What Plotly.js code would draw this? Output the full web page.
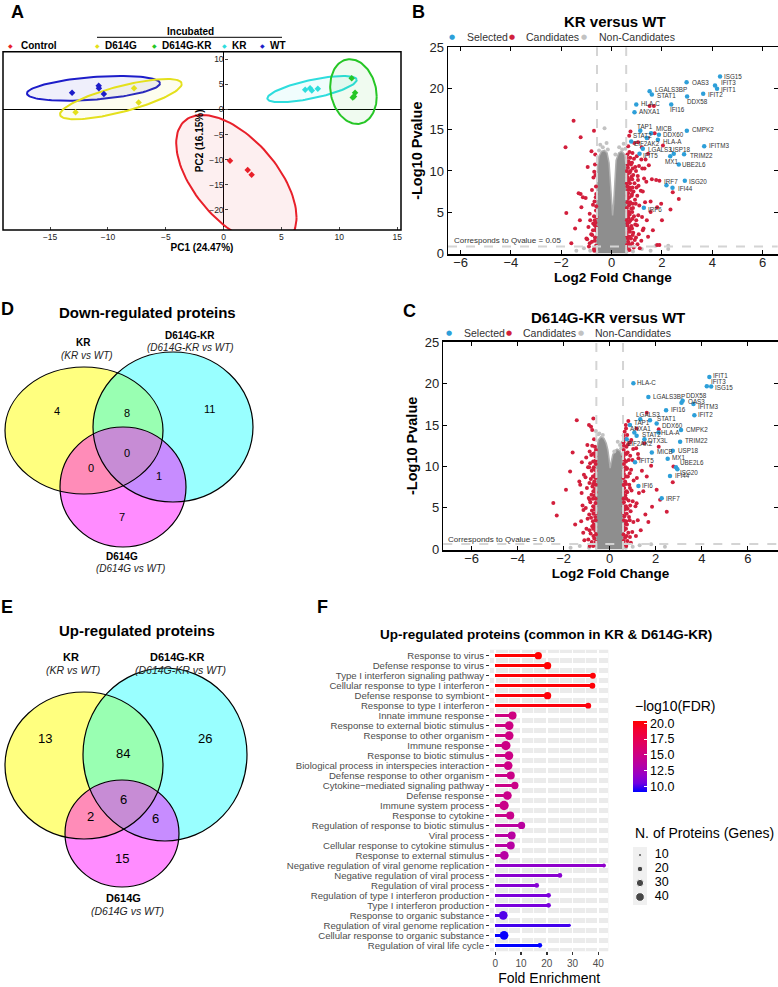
<!DOCTYPE html>
<html>
<head>
<meta charset="utf-8">
<script src="https://cdn.plot.ly/plotly-3.0.1.min.js"></script>
<style>html,body{margin:0;padding:0;background:#fff}#fig{width:778px;height:987px}</style>
</head>
<body>
<div id="fig"></div>
<script>
const W = 778, H = 987;
const FONT = 'Liberation Sans, Arial, Helvetica, sans-serif';

// ---------- A: PCA ----------
const pcaGroups = ['Control', 'D614G', 'D614G-KR', 'KR', 'WT'];
const pcaColors = ['#e8202a', '#e4e01c', '#26c626', '#2edddd', '#1d1dc9'];
const pc1Control = [0.55, 2.08, 2.42];
const pc2Control = [-10.2, -12.05, -13.0];
const pc1D614G = [-12.8, -7.74, -7.35];
const pc2D614G = [-0.55, 4.2, 1.4];
const pc1D614GKR = [11.07, 11.36, 11.16, 11.27];
const pc2D614GKR = [6.2, 3.35, 2.4, 2.6];
const pc1KR = [7.05, 7.47, 7.62, 8.14];
const pc2KR = [3.9, 4.2, 3.75, 4.1];
const pc1WT = [-13.1, -10.8, -10.78, -10.35];
const pc2WT = [3.35, 4.7, 4.2, 3.1];
// confidence ellipses: centre, semi-axis vector u, vertical semi-axis v
const ellCx = [1.1, -8.88, 11.22, 7.64, -11.25];
const ellCy = [-14.1, 2.06, 3.56, 4.05, 4.2];
const ellUx = [5.2, 5.26, 2.01, 3.86, 5.75];
const ellUy = [-7.4, 3.02, -1.01, 1.83, 1.0];
const ellVy = [10.7, 2.64, 6.37, 1.87, 2.25];

// ---------- B: KR versus WT ----------
const krSelGenes = ['ISG15','IFIT3','IFIT1','OAS3','IFIT2','DDX58','LGALS3BP','STAT1','HLA-C','IFI16','ANXA1','TAP1','MICB','STAT2','DDX60','HLA-A','EIF2AK2','LGALS3','USP18','IFIT5','MX1','TRIM22','UBE2L6','IFITM3','CMPK2','IRF7','ISG20','IFI44','IRF6'];
const krSelX = [4.31,4.11,4.19,2.98,3.64,3.0,1.51,1.6,0.98,2.37,0.91,1.14,1.57,1.4,1.88,1.84,0.78,1.24,2.47,1.11,2.33,2.88,2.67,3.68,2.99,2.18,2.91,2.42,1.28];
const krSelY = [21.5,20.4,20.0,20.8,19.4,19.05,19.7,19.3,18.1,18.1,17.15,14.9,14.6,14.0,14.4,13.8,13.6,12.7,12.1,12.1,11.8,12.05,10.8,13.0,14.9,8.25,8.8,7.97,5.54];
const krCandX = [-1.51,-1.23,-1.83,-0.80,-0.70,-1.23,-1.14,-1.20,-1.80,-1.26,-1.03,-0.87,-0.97,-0.87,-0.77,-0.63,-0.67,-0.61,-0.74,-0.85,-0.67,-0.74,-1.00,-0.81,-0.67,-0.60,-0.62,-1.31,-0.95,-0.72,-0.66,-0.90,-0.70,-0.63,-0.65,-1.45,-1.60,-0.78,-0.69,-0.92,
  -0.62,-0.66,-0.61,-0.64,-0.70,-0.62,-0.68,-0.61,-0.73,-0.78,-0.64,-0.69,
  0.64,0.66,0.62,0.68,0.63,0.67,0.62,0.69,0.64,0.66,0.63,0.68,0.62,0.65,0.67,0.63,0.66,0.70,
  0.74,0.77,0.73,0.79,0.75,0.72,0.78,0.74,0.80,0.76,0.73,0.79,0.75,0.77,0.74,
  0.88,0.92,0.86,0.94,0.89,0.85,0.93,0.87,0.91,0.86,0.94,0.89,
  1.03,1.08,1.01,1.06,1.10,1.02,1.07,1.04,1.09,1.00,
  1.18,1.27,1.21,1.33,1.16,1.29,1.22,1.35,
  0.61,0.65,0.61,0.64,0.61,0.65,0.61,0.63,0.61,0.65,0.61,0.63,0.61,0.64,0.61,
  0.71,0.70,0.72,0.70,0.71,0.70,0.72,0.70,0.71,0.70,0.72,0.70,0.71,
  0.82,0.84,0.81,0.83,0.82,0.84,0.81,0.83,0.82,0.84,0.81,0.83,
  0.97,0.98,0.96,0.99,0.97,
  0.75,1.05,1.71,2.04,1.44,1.51,1.68,1.77,1.38,1.05,1.24,1.97,1.81,2.34,2.67,2.43,1.31,1.48,1.18,1.81,1.90,1.40,1.24,1.64,1.55,1.60,1.90,1.45,1.20,0.90,1.55,2.00,1.45,1.12];
const krCandY = [16.1,14.1,12.9,12.4,14.9,7.2,6.8,5.6,4.9,4.0,6.7,4.8,1.7,1.2,2.2,2.8,4.0,5.7,5.9,4.0,3.4,2.8,1.8,2.3,1.5,4.4,8.1,7.3,10.5,9.2,10.8,0.8,0.5,6.8,12.0,3.0,1.2,7.7,9.9,3.2,
  0.9,1.9,3.1,3.7,4.5,5.2,6.3,7.2,3.6,1.4,9.5,0.3,
  0.6,1.4,2.1,2.9,3.6,4.3,5.1,5.8,6.6,7.3,8.1,8.8,9.6,10.4,11.2,12.0,13.0,14.3,
  0.9,1.8,2.6,3.3,4.0,4.7,5.4,6.2,7.0,7.7,8.5,9.3,10.0,10.8,11.6,
  0.7,1.6,2.5,3.5,4.5,5.5,6.5,7.5,8.5,9.5,10.5,11.5,
  1.1,2.3,3.4,4.6,5.8,7.0,8.2,9.4,10.6,11.8,
  1.5,3.0,4.4,6.2,7.6,9.1,10.3,11.4,
  1.0,1.8,2.5,3.3,4.0,4.7,5.5,6.2,7.0,7.7,8.5,9.2,10.0,10.8,11.6,
  0.4,1.1,2.0,3.0,3.8,5.0,6.0,6.8,8.0,9.0,9.8,11.0,12.3,
  1.2,2.2,3.0,4.2,5.0,6.0,7.2,8.0,9.0,10.3,11.0,12.2,
  1.9,4.0,6.0,8.0,10.0,
  14.8,13.5,14.6,13.1,14.0,17.9,17.9,8.9,8.7,8.9,7.5,6.0,5.6,5.3,6.6,7.4,10.3,10.7,11.4,1.0,1.0,4.0,2.8,2.8,6.3,9.0,8.8,12.1,12.9,13.4,5.0,4.0,2.0,0.6];
const krCloudX = [-0.62,-0.6,-0.58,-0.56,-0.5,-0.4,-0.28,-0.18,-0.1,-0.04,0.0,0.04,0.08,0.12,0.18,0.28,0.4,0.52,0.58,0.6,0.62];
const krCloudY = [0,4,8,10.5,11.8,12.4,12.5,12.2,11,8,5.5,4.6,6,9,11.3,12.2,12.4,12,10.5,6,0];
const krNonX = [-0.28,-0.45,-0.35,-0.15,0.3,0.48,0.55,0.42,-0.5,-1.4,-1.1,-0.85,0.85,1.2,1.75,2.25,2.25,1.55,-0.6,0.62,-0.2,0.15];
const krNonY = [15.2,13.2,12.9,12.6,12.9,13.3,12.7,12.6,12.5,0.3,0.6,0.3,0.2,0.5,0.9,0.5,0.9,0.3,0.2,0.3,13.4,12.0];

// ---------- C: D614G-KR versus WT ----------
const dkrSelGenes = ['IFIT1','IFIT3','ISG15','HLA-C','LGALS3BP','DDX58','OAS3','IFITM3','IFI16','IFIT2','LGALS3','STAT1','TAP1','DDX60','ANXA1','HLA-A','CMPK2','STAT2','DTX3L','TRIM22','EIF2AK2','MICB','USP18','MX1','IFIT5','UBE2L6','ISG20','IFI44','IFI6','IRF7'];
const dkrSelX = [4.33,4.22,4.41,1.03,1.68,3.17,3.12,3.64,2.45,3.68,1.33,1.75,0.88,2.04,1.07,2.12,3.1,1.17,1.51,3.06,0.74,1.83,2.74,2.52,1.1,2.88,2.94,2.62,1.25,2.26];
const dkrSelY = [20.8,19.7,19.65,20.05,18.4,17.95,17.7,17.55,16.8,16.2,15.7,15.6,15.0,15.2,14.1,14.1,14.4,13.7,13.3,13.0,13.3,11.7,11.9,10.95,10.5,9.9,9.66,8.86,7.65,6.16];
const dkrCandX = [-1.43,-0.90,-0.81,-0.71,-1.61,-1.72,-1.90,-2.45,-2.30,-1.32,-1.22,-1.14,-1.10,-0.76,-1.50,
  -0.64,-0.67,-0.62,-0.69,-0.63,-0.66,-0.62,-0.68,-0.64,-0.67,-0.63,-0.69,-0.62,-0.66,-0.64,-0.68,
  -0.78,-0.83,-0.76,-0.81,-0.77,-0.84,-0.79,-0.75,-0.82,-0.78,-0.85,-0.80,-0.76,
  -0.93,-1.01,-0.96,-1.04,-0.91,-0.99,-1.05,-0.94,-1.02,-0.97,
  -1.15,-1.24,-1.18,-1.28,-1.12,-1.21,
  -0.61,-0.60,-0.62,-0.61,-0.60,-0.62,-0.61,-0.60,-0.61,-0.62,-0.60,-0.61,-0.62,-0.60,
  -0.72,-0.71,-0.72,-0.73,-0.71,-0.72,-0.73,-0.71,-0.72,-0.73,-0.71,-0.72,-0.73,
  -0.87,-0.88,-0.89,-0.87,-0.88,-0.89,-0.87,
  0.63,0.67,0.62,0.69,0.64,0.66,0.62,0.68,0.63,0.67,0.62,0.69,0.64,0.66,0.62,0.68,0.65,0.70,
  0.77,0.81,0.75,0.84,0.78,0.82,0.76,0.85,0.79,0.75,0.83,0.78,0.80,0.76,
  0.92,0.98,1.03,0.91,1.00,0.95,1.04,0.93,0.99,1.02,0.94,
  1.14,1.22,1.12,1.27,1.18,1.25,1.15,
  0.61,0.60,0.61,0.62,0.60,0.61,0.60,0.62,0.61,0.60,0.61,0.62,0.60,0.61,0.60,0.61,
  0.72,0.73,0.71,0.72,0.74,0.71,0.72,0.73,0.71,0.72,0.74,0.71,0.72,0.73,0.71,
  0.88,0.87,0.89,0.88,0.87,0.89,0.88,
  0.81,1.17,1.61,2.13,2.13,2.77,2.74,1.80,1.61,2.04,1.84,2.48,2.19,1.46,1.17,1.68,1.35,1.23,1.50,1.40,1.55];
const dkrCandY = [15.6,15.0,14.8,15.8,11.7,9.4,7.2,5.6,4.1,8.2,6.8,4.75,1.1,14.4,3.0,
  0.5,1.3,2.2,3.0,3.9,4.8,5.6,6.5,7.3,8.2,9.0,9.9,10.7,11.6,12.4,13.3,
  0.9,1.9,2.8,3.8,4.7,5.7,6.6,7.6,8.5,9.5,10.4,11.4,12.5,
  1.2,2.5,3.7,5.0,6.2,7.4,8.7,9.9,11.1,12.6,
  2.0,3.4,5.3,7.8,9.0,10.5,
  0.9,1.8,2.7,3.5,4.4,5.2,6.1,6.9,7.8,8.6,9.5,10.3,11.2,12.0,
  0.4,1.6,2.5,3.4,4.3,5.2,6.1,7.0,7.9,8.8,9.7,10.6,11.5,
  0.4,2.3,4.2,6.0,8.0,9.9,11.8,
  0.6,1.4,2.3,3.1,4.0,4.8,5.7,6.5,7.4,8.2,9.1,9.9,10.8,11.6,12.5,13.3,14.2,15.0,
  1.0,2.0,3.0,3.9,4.9,5.9,6.9,7.8,8.8,9.8,10.8,11.7,12.7,13.8,
  0.8,2.1,3.3,4.6,5.8,7.1,8.3,9.6,10.8,12.1,13.2,
  1.6,3.5,5.2,6.8,8.6,11.0,12.2,
  1.0,1.8,2.7,3.5,4.4,5.2,6.1,6.9,7.8,8.6,9.5,10.3,11.2,12.0,12.9,13.7,
  0.4,1.6,2.5,3.4,4.3,5.2,6.1,7.0,7.9,8.8,9.7,10.6,11.5,12.4,14.6,
  1.5,3.5,5.3,7.4,9.2,11.3,12.9,
  15.5,14.6,16.5,14.5,12.4,10.0,8.1,10.1,8.8,7.2,5.15,4.55,6.0,7.0,5.55,3.3,2.3,11.5,12.8,9.5,4.2];
const dkrCloudX = [-0.6,-0.6,-0.58,-0.56,-0.5,-0.38,-0.25,-0.15,-0.08,-0.03,0.02,0.07,0.13,0.22,0.32,0.45,0.55,0.58,0.6];
const dkrCloudY = [0,4,9,12,13.2,13.6,13.4,12.8,12,11,9.8,10.6,11.4,11.9,12.1,11.9,11.2,6,0];
const dkrNonX = [-0.6,-0.45,-0.3,0.35,0.45,0.5,0.2,-1.3,-0.9,1.0,1.3,1.8,2.4,-1.7,0.7,-0.5,0.55];
const dkrNonY = [14.3,14.0,13.8,13.0,12.6,12.2,11.8,0.4,0.2,0.3,0.5,0.6,0.3,0.2,0.2,13.9,12.9];

// ---------- D/E: Venn counts ----------
const vennRegions = ['KR only','KR & D614G-KR','D614G-KR only','all three','KR & D614G','D614G-KR & D614G','D614G only'];
const downCounts = [4, 8, 11, 0, 0, 1, 7];
const upCounts = [13, 84, 26, 6, 2, 6, 15];

// ---------- F: GO enrichment ----------
const goTerms = ['Response to virus','Defense response to virus','Type I interferon signaling pathway','Cellular response to type I interferon','Defense response to symbiont','Response to type I interferon','Innate immune response','Response to external biotic stimulus','Response to other organism','Immune response','Response to biotic stimulus','Biological process in interspecies interaction','Defense response to other organism','Cytokine\u2212mediated signaling pathway','Defense response','Immune system process','Response to cytokine','Regulation of response to biotic stimulus','Viral process','Cellular response to cytokine stimulus','Response to external stimulus','Negative regulation of viral genome replication','Negative regulation of viral process','Regulation of viral process','Regulation of type I interferon production','Type I interferon production','Response to organic substance','Regulation of viral genome replication','Cellular response to organic substance','Regulation of viral life cycle'];
const foldEnrichment = [16.7,20.3,37.9,37.7,20.3,36.1,6.7,5.4,5.4,4.1,5.3,5.0,6.0,7.6,4.7,3.4,5.8,10.2,6.35,6.0,3.5,42.2,25.1,16.1,20.7,20.7,3.1,28.7,3.4,17.3];
const log10FDR = [20.37,20.3,20.2,20.2,20.1,20.0,15.2,15.1,15.1,15.0,15.0,15.0,14.9,14.9,14.8,14.8,14.7,13.7,13.6,13.5,13.5,11.6,11.4,11.2,10.9,10.8,10.2,10.0,9.3,9.2];
const nProteins = [30,30,22,22,30,22,35,40,40,45,40,40,35,30,40,45,35,30,35,35,40,13,16,16,16,16,40,11,40,16];
const sizeLegendN = [10, 20, 30, 40];
const fdrTicks = [10, 12.5, 15, 17.5, 20];

// ---------- helpers ----------
const dx = (a, b) => [a / W, b / W];
const dy = (a, b) => [1 - b / H, 1 - a / H];
const px = x => x / W;
const py = y => 1 - y / H;
function ann(text, x, y, size, opts) {
  return Object.assign({text: text, x: px(x), y: py(y), xref: 'paper', yref: 'paper', showarrow: false,
    xanchor: 'center', yanchor: 'middle', font: {family: FONT, size: size, color: '#000'}}, opts || {});
}
function ellipse(i) {
  const xs = [], ys = [];
  for (let k = 0; k <= 120; k++) {
    const t = 2 * Math.PI * k / 120;
    xs.push(ellCx[i] + ellUx[i] * Math.cos(t));
    ys.push(ellCy[i] + ellUy[i] * Math.cos(t) + ellVy[i] * Math.sin(t));
  }
  return {xs, ys};
}
function rgba(hex, a) {
  const n = parseInt(hex.slice(1), 16);
  return 'rgba(' + (n >> 16) + ',' + ((n >> 8) & 255) + ',' + (n & 255) + ',' + a + ')';
}
const sizeFromN = n => 1.49 * Math.sqrt(n - 5.95);

const SEL = '#2d9fd9', CAND = '#d21f3c', NON = '#c2c2c2', CLOUD = '#8e8e8e';
const fdrScale = [[0,'#0000FF'],[0.125,'#7300E0'],[0.25,'#9A00C3'],[0.375,'#B500A5'],[0.5,'#C90089'],[0.625,'#DA006C'],[0.75,'#E8004F'],[0.875,'#F40031'],[1,'#FF0000']];

const traces = [];
const annotations = [];

// A traces
const pcX = [pc1Control, pc1D614G, pc1D614GKR, pc1KR, pc1WT];
const pcY = [pc2Control, pc2D614G, pc2D614GKR, pc2KR, pc2WT];
[0, 4, 1, 3, 2].forEach(i => {
  const e = ellipse(i);
  traces.push({x: e.xs, y: e.ys, xaxis: 'x', yaxis: 'y', mode: 'lines', fill: 'toself',
    fillcolor: rgba(pcaColors[i], 0.07), line: {color: pcaColors[i], width: 2}, hoverinfo: 'skip', showlegend: false});
});
pcaGroups.forEach((g, i) => {
  traces.push({x: pcX[i], y: pcY[i], xaxis: 'x', yaxis: 'y', mode: 'markers', name: g,
    marker: {symbol: 'diamond', size: 5, color: pcaColors[i]}, showlegend: false});
});

// volcano traces; gene labels offset (px) from their point
function volcano(ax, cloudX, cloudY, nonX, nonY, candX, candY, selX, selY, genes, offs) {
  traces.push({x: cloudX, y: cloudY, xaxis: 'x' + ax, yaxis: 'y' + ax, mode: 'lines', fill: 'toself',
    fillcolor: CLOUD, line: {color: '#b0b0b0', width: 1.5}, hoverinfo: 'skip', showlegend: false});
  traces.push({x: nonX, y: nonY, xaxis: 'x' + ax, yaxis: 'y' + ax, mode: 'markers',
    marker: {size: 4, color: NON}, showlegend: false});
  traces.push({x: candX, y: candY, xaxis: 'x' + ax, yaxis: 'y' + ax, mode: 'markers',
    marker: {size: 4, color: CAND}, showlegend: false});
  traces.push({x: selX, y: selY, xaxis: 'x' + ax, yaxis: 'y' + ax, mode: 'markers',
    marker: {size: 4.5, color: SEL}, showlegend: false});
  genes.forEach((g, i) => {
    const o = offs[g] || [3, 0];
    annotations.push({text: g, x: selX[i], y: selY[i], xref: 'x' + ax, yref: 'y' + ax, showarrow: false,
      xanchor: 'left', yanchor: 'middle', xshift: o[0], yshift: o[1],
      font: {family: FONT, size: 6.3, color: '#333'}});
  });
}
volcano(2, krCloudX, krCloudY, krNonX, krNonY, krCandX, krCandY, krSelX, krSelY, krSelGenes,
  {'ISG15':[2,0],'IFIT3':[4,3],'IFIT1':[2,-1],'IFIT2':[3,-1],'DDX58':[-2,-5],'LGALS3BP':[3,2],'STAT1':[3,-1],
   'HLA-C':[3,1],'IFI16':[-3,-5],'ANXA1':[3,1],'TAP1':[-5,4],'MICB':[3,5],'STAT2':[-16,3],'DDX60':[2,0],
   'HLA-A':[3,-2],'EIF2AK2':[1,-2],'LGALS3':[3,-1],'USP18':[-6,4],'IFIT5':[1,-2],'MX1':[-7,-5],'TRIM22':[4,-1],'UBE2L6':[1,0],
   'IFITM3':[3,1],'CMPK2':[3,1],'IRF7':[-4,4],'ISG20':[2,-1],'IFI44':[3,-1],'IRF6':[2,-2]});
volcano(3, dkrCloudX, dkrCloudY, dkrNonX, dkrNonY, dkrCandX, dkrCandY, dkrSelX, dkrSelY, dkrSelGenes,
  {'IFIT1':[2,2],'IFIT3':[2,5],'ISG15':[2,-1],'HLA-C':[2,1],'DDX58':[1,5],'OAS3':[4,1],'IFITM3':[3,-3],
   'IFI16':[3,1],'IFIT2':[2,1],'LGALS3':[-6,5],'STAT1':[5,2],'TAP1':[2,3],'DDX60':[3,-2],'ANXA1':[-6,4],
   'HLA-A':[1,0],'CMPK2':[3,1],'STAT2':[3,1],'DTX3L':[2,-1],'TRIM22':[3,1],'EIF2AK2':[-2,-4],'MICB':[3,1],
   'MX1':[2,1],'IFIT5':[2,2],'UBE2L6':[2,5],'ISG20':[1,-3],'IFI6':[2,0],'IRF7':[2,0]});

// F traces
traces.push({type: 'bar', orientation: 'h', x: foldEnrichment, y: goTerms, xaxis: 'x4', yaxis: 'y4', width: 0.3,
  marker: {color: log10FDR, colorscale: fdrScale, cmin: 9.2, cmax: 20.37, line: {width: 0}}, showlegend: false, hoverinfo: 'skip'});
traces.push({type: 'scatter', mode: 'markers', x: foldEnrichment, y: goTerms, xaxis: 'x4', yaxis: 'y4',
  marker: {size: nProteins.map(sizeFromN), color: log10FDR, colorscale: fdrScale, cmin: 9.2, cmax: 20.37, opacity: 1,
    line: {width: 0},
    colorbar: {x: px(633), xanchor: 'left', y: py(756.3), yanchor: 'middle', xpad: 0, ypad: 0,
      len: 70.7, lenmode: 'pixels', thickness: 14, thicknessmode: 'pixels', outlinewidth: 0,
      tickvals: fdrTicks, ticktext: fdrTicks.map(v => v.toFixed(1)), ticks: 'inside', ticklen: 3, tickcolor: '#fff',
      tickfont: {family: FONT, size: 12.5, color: '#000'}}},
  showlegend: false});
// size legend: keys and their labels
traces.push({type: 'scatter', mode: 'markers', x: sizeLegendN.map(() => 0.5), y: sizeLegendN, xaxis: 'x5', yaxis: 'y5',
  marker: {size: sizeLegendN.map(sizeFromN), color: '#000'}, showlegend: false, hoverinfo: 'skip', cliponaxis: false});
traces.push({type: 'scatter', mode: 'text', x: sizeLegendN.map(() => 1.55), y: sizeLegendN, text: sizeLegendN.map(String),
  textposition: 'middle right', textfont: {family: FONT, size: 12.5, color: '#000'}, xaxis: 'x5', yaxis: 'y5',
  showlegend: false, hoverinfo: 'skip', cliponaxis: false});

// ---------- annotations ----------
[['A',17,12],['B',418,12.5],['C',409,311],['D',8,309],['E',7,607],['F',322,607]].forEach(l =>
  annotations.push(ann('<b>' + l[0] + '</b>', l[1], l[2], 18)));

// A legend
annotations.push(ann('<b>Incubated</b>', 190, 31.5, 10));
const legMarkX = [10, 97, 154, 224, 262];
const legTextX = [19, 103, 160, 230, 268];
pcaGroups.forEach((g, i) => {
  annotations.push(ann('\u25C6', legMarkX[i], 45, 7, {font: {family: 'DejaVu Sans', size: 6, color: pcaColors[i]}}));
  annotations.push(ann('<b>' + g + '</b>', legTextX[i], 45, 10, {xanchor: 'left'}));
});

// B / C titles and legends
function volcLegend(cx, ty, ly, title, mx, tx) {
  annotations.push(ann('<b>' + title + '</b>', cx, ty, 15));
  const cols = [SEL, CAND, NON], labs = ['Selected', 'Candidates', 'Non-Candidates'];
  labs.forEach((t, i) => {
    annotations.push(ann('\u25CF', mx[i], ly, 7, {font: {family: 'DejaVu Sans', size: 7, color: cols[i]}}));
    annotations.push(ann(t, tx[i], ly, 10.5, {xanchor: 'left', font: {family: FONT, size: 10.5, color: '#333'}}));
  });
}
volcLegend(615, 21.7, 36.7, 'KR versus WT', [451.7, 511.7, 584.3], [465, 524.3, 596.7]);
volcLegend(608, 317, 332.7, 'D614G-KR versus WT', [449, 509, 581], [461.7, 521, 593.3]);
annotations.push(ann('Corresponds to Qvalue = 0.05', 452, 240.7, 8, {xanchor: 'left', font: {family: FONT, size: 8, color: '#333'}}));
annotations.push(ann('Corresponds to Qvalue = 0.05', 446, 539, 8, {xanchor: 'left', font: {family: FONT, size: 8, color: '#333'}}));

// Venn titles, set labels and counts
annotations.push(ann('<b>Down-regulated proteins</b>', 57, 312, 15, {xanchor: 'left'}));
annotations.push(ann('<b>Up-regulated proteins</b>', 57, 630, 15, {xanchor: 'left'}));
function vennLabels(items, bs, is) {
  items.forEach(it => {
    annotations.push(ann('<b>' + it[0] + '</b>', it[1], it[2], bs));
    annotations.push(ann('<i>' + it[3] + '</i>', it[4], it[5], is, {font: {family: FONT, size: is, color: '#222'}}));
  });
}
vennLabels([['KR',83,342,'(KR vs WT)',87,355],['D614G-KR',190,335,'(D614G-KR vs WT)',190,347],['D614G',122,556,'(D614G vs WT)',130,568]], 10, 10);
vennLabels([['KR',71,657,'(KR vs WT)',73,670],['D614G-KR',177,657,'(D614G-KR vs WT)',180,670],['D614G',123,898,'(D614G vs WT)',128,911]], 11, 10.5);
const downCountPos = [[57,411],[127,413],[209,409],[127,453],[91,468],[159,476],[122,517]];
const upCountPos = [[45,738],[123,753],[205,738],[123,799],[90,816],[155,818],[122,858]];
downCounts.forEach((c, i) => annotations.push(ann(String(c), downCountPos[i][0], downCountPos[i][1], 11)));
upCounts.forEach((c, i) => annotations.push(ann(String(c), upCountPos[i][0], upCountPos[i][1], 13)));

// F titles / legends
annotations.push(ann('<b>Up-regulated proteins (common in KR &amp; D614G-KR)</b>', 546, 634, 13.5));
annotations.push(ann('\u2212log10(FDR)', 633, 706, 14, {xanchor: 'left'}));
annotations.push(ann('N. of Proteins (Genes)', 633, 833, 14, {xanchor: 'left'}));

// ---------- shapes ----------
const shapes = [];
shapes.push({type: 'rect', xref: 'x domain', yref: 'y domain', x0: 0, x1: 1, y0: 0, y1: 1, line: {color: '#000', width: 1.5}});
shapes.push({type: 'line', xref: 'paper', yref: 'paper', x0: px(97), x1: px(282), y0: py(37.3), y1: py(37.3), line: {color: '#000', width: 1}});
function dashed(ax, x0, x1, y0, y1) {
  shapes.push({type: 'line', xref: ax[0], yref: ax[1], x0: x0, x1: x1, y0: y0, y1: y1, layer: 'above',
    line: {color: '#d4d4d4', width: 2, dash: 'dash'}});
}
dashed(['x2', 'y2 domain'], -0.58, -0.58, 0, 1); dashed(['x2', 'y2 domain'], 0.58, 0.58, 0, 1);
dashed(['x2 domain', 'y2'], 0, 1, 0.8, 0.8);
dashed(['x3', 'y3 domain'], -0.58, -0.58, 0, 1); dashed(['x3', 'y3 domain'], 0.58, 0.58, 0, 1);
dashed(['x3 domain', 'y3'], 0, 1, 0.65, 0.65);
shapes.push({type: 'rect', xref: 'x4 domain', yref: 'y4 domain', x0: 0, x1: 1, y0: 0, y1: 1, fillcolor: '#ebebeb', line: {width: 0}, layer: 'below'});
shapes.push({type: 'rect', xref: 'paper', yref: 'paper', x0: px(633), x1: px(647), y0: py(905), y1: py(847), fillcolor: '#f0f0f0', line: {width: 0}, layer: 'below'});
function venn(circles) {
  const fills = ['rgba(255,255,0,0.5)', 'rgba(0,255,255,0.4)', 'rgba(255,0,255,0.45)'];
  circles.forEach((c, i) => shapes.push({type: 'circle', xref: 'paper', yref: 'paper', x0: px(c[0]), x1: px(c[1]),
    y0: py(c[3]), y1: py(c[2]), fillcolor: fills[i], line: {width: 0}, layer: 'below'}));
  circles.forEach(c => shapes.push({type: 'circle', xref: 'paper', yref: 'paper', x0: px(c[0]), x1: px(c[1]),
    y0: py(c[3]), y1: py(c[2]), line: {color: '#000', width: 1.2}}));
}
venn([[5, 163, 367, 494], [93, 253, 352, 502], [60, 186, 427, 547]]);
venn([[5, 163, 692, 839], [83, 247, 668, 841], [65, 179, 780, 887]]);

// ---------- axes ----------
const volcAxis = {showline: true, mirror: 'ticks', linecolor: '#000', linewidth: 1.5, ticks: 'inside', ticklen: 4,
  tickcolor: '#000', showgrid: false, zeroline: false, tickfont: {family: FONT, size: 13, color: '#222'}};
const layout = {
  width: W, height: H, margin: {l: 0, r: 0, t: 0, b: 0}, paper_bgcolor: '#fff', plot_bgcolor: 'rgba(0,0,0,0)',
  font: {family: FONT, color: '#000'}, showlegend: false, bargap: 0,
  xaxis: {domain: dx(3, 401), range: [-19.07, 15.33], anchor: 'y', tickvals: [-15, -10, -5, 0, 5, 10, 15],
    ticks: 'inside', ticklen: 3, showgrid: false, showline: false, zeroline: true, zerolinecolor: '#000', zerolinewidth: 1.5,
    tickfont: {family: FONT, size: 8.5, color: '#222'}, title: {text: '<b>PC1 (24.47%)</b>', font: {size: 10}, standoff: 3}},
  yaxis: {domain: dy(51.7, 230), range: [-24, 11.5], anchor: 'free', position: px(223.6), tickvals: [-20, -15, -10, -5, 0, 5, 10],
    ticks: 'inside', ticklen: 3, showgrid: false, showline: false, zeroline: true, zerolinecolor: '#000', zerolinewidth: 1.5,
    tickfont: {family: FONT, size: 8.5, color: '#222'}, title: {text: '<b>PC2 (16.15%)</b>', font: {size: 10}, standoff: 2}},
  xaxis2: Object.assign({}, volcAxis, {domain: dx(448, 777.7), range: [-6.5, 6.6], anchor: 'y2', tickvals: [-6, -4, -2, 0, 2, 4, 6],
    ticklabelstandoff: -4, title: {text: '<b>Log2 Fold Change</b>', font: {size: 13.5}, standoff: 2}}),
  yaxis2: Object.assign({}, volcAxis, {domain: dy(47.3, 254), range: [-0.1, 25.05], anchor: 'x2', dtick: 5,
    title: {text: '<b>-Log10 Pvalue</b>', font: {size: 14.5}, standoff: 3}}),
  xaxis3: Object.assign({}, volcAxis, {domain: dx(443.3, 777.7), range: [-7.23, 7.3], anchor: 'y3', tickvals: [-6, -4, -2, 0, 2, 4, 6],
    ticklabelstandoff: -4, title: {text: '<b>Log2 Fold Change</b>', font: {size: 13.5}, standoff: 2}}),
  yaxis3: Object.assign({}, volcAxis, {domain: dy(341.7, 550), range: [-0.08, 25.07], anchor: 'x3', dtick: 5,
    title: {text: '<b>-Log10 Pvalue</b>', font: {size: 14.5}, standoff: 3}}),
  xaxis4: {domain: dx(490, 608.3), range: [-2.06, 43.9], anchor: 'y4', dtick: 10, tick0: 0, ticks: 'outside', ticklen: 3,
    tickwidth: 1.5, tickcolor: '#333', showgrid: true, gridcolor: '#fff', gridwidth: 1.6, zeroline: false, showline: false,
    minor: {dtick: 5, tick0: 0, showgrid: true, gridcolor: '#fff', gridwidth: 0.8},
    tickfont: {family: FONT, size: 10, color: '#4d4d4d'}, title: {text: 'Fold Enrichment', font: {size: 14}, standoff: 4}},
  yaxis4: {domain: dy(649.7, 951.3), type: 'category', categoryorder: 'array', categoryarray: goTerms, range: [29.6, -0.6],
    tickmode: 'array', tickvals: goTerms, ticktext: goTerms,
    anchor: 'x4', ticks: 'outside', ticklen: 3, tickwidth: 1.5, tickcolor: '#333', showgrid: true, gridcolor: '#fff',
    gridwidth: 4.5, zeroline: false, showline: false, tickfont: {family: FONT, size: 9.6, color: '#4d4d4d'}},
  xaxis5: {domain: dx(633, 689), range: [0, 4], anchor: 'y5', showticklabels: false, showgrid: false, zeroline: false,
    showline: false, ticks: '', fixedrange: true},
  yaxis5: {domain: dy(848, 904), range: [45, 5], anchor: 'x5', showticklabels: false, showgrid: false, zeroline: false,
    showline: false, ticks: '', fixedrange: true},
  annotations: annotations,
  shapes: shapes
};

Plotly.newPlot('fig', traces, layout, {staticPlot: true});
</script>
</body>
</html>
